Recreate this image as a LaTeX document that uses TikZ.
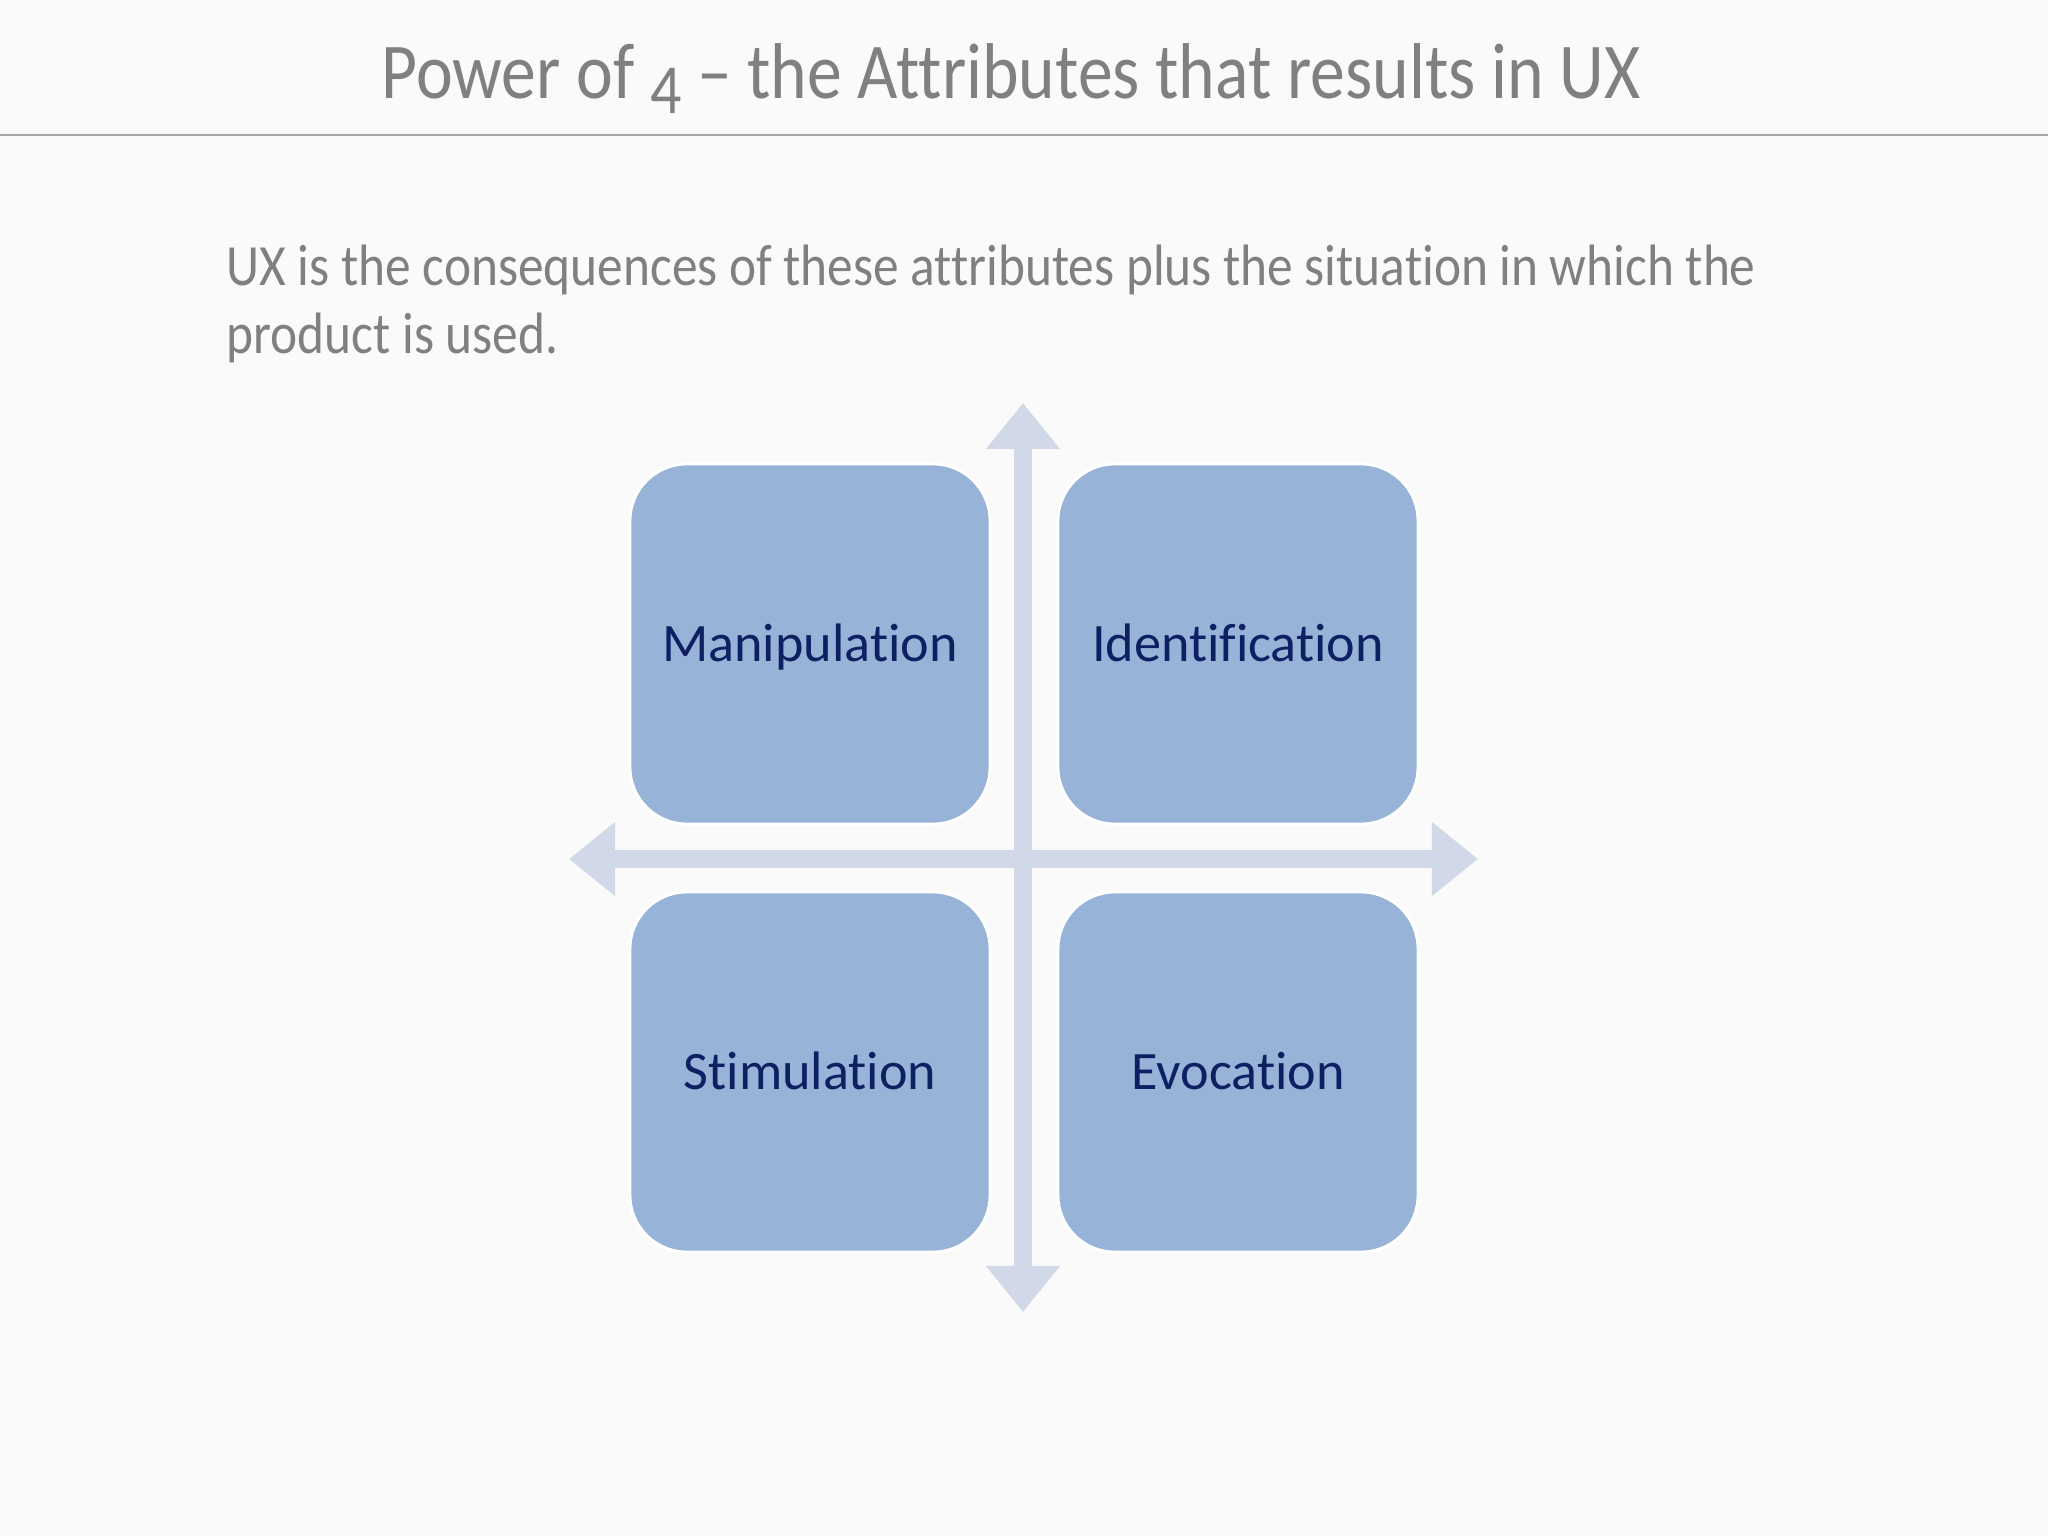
\documentclass[tikz,border=0pt]{standalone}
\usepackage{fontspec}
\setmainfont[Ligatures=NoCommon]{Carlito}
\newfontfamily\slidefont[FakeStretch=0.88,Ligatures=NoCommon]{Carlito}
\usetikzlibrary{arrows.meta}

\definecolor{slidebg}{RGB}{250,250,250}
\definecolor{titlegray}{RGB}{128,128,128}
\definecolor{rulegray}{RGB}{165,165,165}
\definecolor{boxblue}{RGB}{151,179,215}
\definecolor{axisblue}{RGB}{209,217,233}
\definecolor{navy}{RGB}{15,32,98}

\begin{document}
\begin{tikzpicture}[x=0.01cm,y=-0.01cm,
  attr/.style={draw=white,line width=0.03cm,fill=boxblue,rounded corners=0.57cm,
    minimum width=3.6cm,minimum height=3.6cm,text height=10pt,text depth=0.3pt,
    text=navy,font=\fontsize{15.4}{18}\selectfont},
  axis/.style={axisblue,line width=0.18cm,
    {Triangle[width=0.71cm,length=0.46cm]}-{Triangle[width=0.71cm,length=0.46cm]}},
  slidetext/.style={inner sep=0,anchor=base west,text=titlegray,font=\slidefont\fontsize{16.6}{19}\selectfont}]

\fill[slidebg] (0,0) rectangle (2048,1536);
\useasboundingbox (0,0) rectangle (2048,1536);

% title and rule
\node[inner sep=0,anchor=base,text=titlegray,font=\slidefont\fontsize{22.5}{26}\selectfont] (title) at (1011,98)
  {Power of \raisebox{-0.2em}{\fontsize{20}{24}\selectfont 4} – the Attributes that results in UX};
\coordinate (rulel) at (0,135);
\coordinate (ruler) at (2048,135);
\draw[rulegray,line width=0.02cm] (rulel) -- (ruler);

\node[slidetext] (line1) at (226,285) {UX is the consequences of these attributes plus the situation in which the};
\node[slidetext] (line2) at (226,353) {product is used.};

% axes
\coordinate (top) at (1023,403);
\coordinate (bottom) at (1023,1312);
\coordinate (left) at (569,859);
\coordinate (right) at (1478,859);
\draw[axis] (left) -- (right);
\draw[axis] (bottom) -- (top);

% quadrants
\node[attr] (manip) at (810,644) {Manipulation};
\node[attr] (ident) at (1238,644) {Identification};
\node[attr] (stim) at (810,1072) {Stimulation};
\node[attr] (evoc) at (1238,1072) {Evocation};

\end{tikzpicture}
\end{document}
